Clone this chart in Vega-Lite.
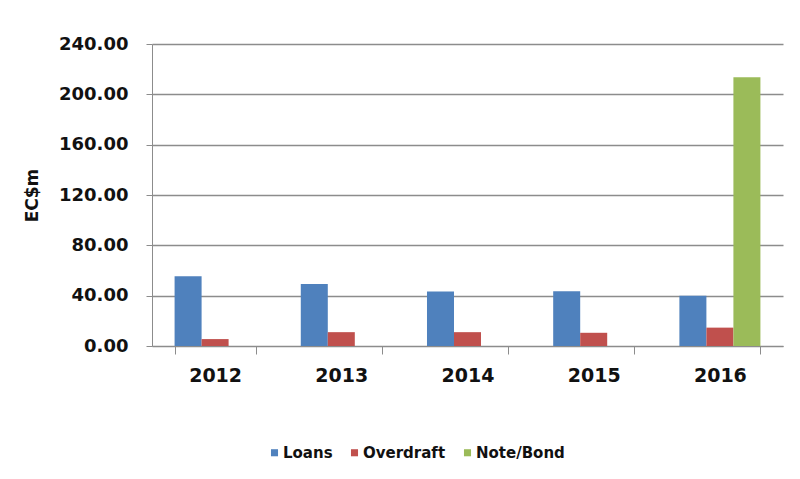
{
  "$schema": "https://vega.github.io/schema/vega-lite/v6.json",
  "autosize": {"type": "none"},
  "padding": {"left": 152, "top": 44, "right": 17, "bottom": 133},
  "width": 631,
  "height": 302,
  "background": "white",
  "data": {
    "values": [
      {"year": "2012", "series": "Loans", "value": 55.5},
      {"year": "2012", "series": "Overdraft", "value": 5.5},
      {"year": "2013", "series": "Loans", "value": 49.2},
      {"year": "2013", "series": "Overdraft", "value": 11.0},
      {"year": "2014", "series": "Loans", "value": 43.3},
      {"year": "2014", "series": "Overdraft", "value": 11.0},
      {"year": "2015", "series": "Loans", "value": 43.6},
      {"year": "2015", "series": "Overdraft", "value": 10.5},
      {"year": "2016", "series": "Loans", "value": 40.0},
      {"year": "2016", "series": "Overdraft", "value": 14.6},
      {"year": "2016", "series": "Note/Bond", "value": 213.5}
    ]
  },
  "mark": {"type": "bar"},
  "encoding": {
    "x": {
      "field": "year",
      "type": "nominal",
      "scale": {"paddingInner": 0.358, "paddingOuter": 0.179},
      "axis": {
        "title": null,
        "labelAngle": 0,
        "labelFont": "DejaVu Sans",
        "labelFontWeight": "bold",
        "labelFontSize": 19,
        "labelColor": "#111111",
        "labelPadding": 12,
        "tickBand": "extent",
        "tickSize": 8,
        "tickColor": "#8c8c8c",
        "domainColor": "#8c8c8c",
        "grid": false
      }
    },
    "xOffset": {
      "field": "series",
      "type": "nominal",
      "scale": {"domain": ["Loans", "Overdraft", "Note/Bond"], "paddingInner": 0, "paddingOuter": 0}
    },
    "y": {
      "field": "value",
      "type": "quantitative",
      "scale": {"domain": [0, 240], "nice": false},
      "axis": {
        "title": "EC$m",
        "titleFont": "DejaVu Sans",
        "titleFontWeight": "bold",
        "titleFontSize": 17,
        "titleColor": "#111111",
        "titlePadding": 17,
        "values": [0, 40, 80, 120, 160, 200, 240],
        "format": ".2f",
        "labelFont": "DejaVu Sans",
        "labelFontWeight": "bold",
        "labelFontSize": 18,
        "labelColor": "#111111",
        "labelPadding": 18,
        "tickSize": 6,
        "tickColor": "#8c8c8c",
        "domainColor": "#8c8c8c",
        "grid": true,
        "gridColor": "#8c8c8c",
        "gridWidth": 1.3
      }
    },
    "color": {
      "field": "series",
      "type": "nominal",
      "scale": {"domain": ["Loans", "Overdraft", "Note/Bond"], "range": ["#4F81BD", "#C0504D", "#9BBB59"]},
      "legend": {
        "title": null,
        "orient": "none",
        "direction": "horizontal",
        "legendX": 115,
        "legendY": 401,
        "symbolType": "square",
        "symbolSize": 50,
        "symbolStrokeWidth": 0,
        "labelFont": "DejaVu Sans",
        "labelFontWeight": "bold",
        "labelFontSize": 15,
        "labelColor": "#111111",
        "labelOffset": 1,
        "columnPadding": 14
      }
    }
  },
  "config": {"view": {"stroke": null}}
}
